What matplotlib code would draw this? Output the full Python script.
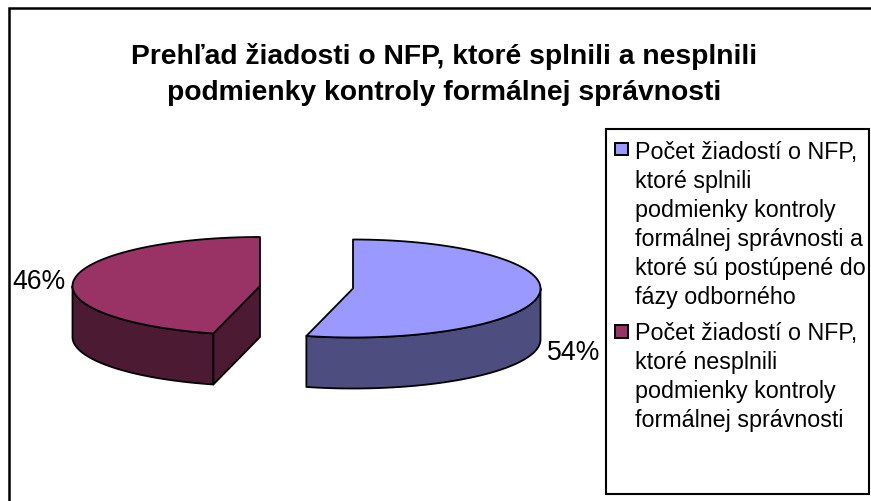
import matplotlib
matplotlib.use("Agg")
import matplotlib.pyplot as plt
import numpy as np
from matplotlib.patches import Polygon, Rectangle

plt.rcParams['font.family'] = ['Liberation Sans', 'DejaVu Sans']

title = "Prehľad žiadosti o NFP, ktoré splnili a nesplnili\npodmienky kontroly formálnej správnosti"
values = [54, 46]
labels = ["Počet žiadostí o NFP,\nktoré splnili\npodmienky kontroly\nformálnej správnosti a\nktoré sú postúpené do\nfázy odborného",
          "Počet žiadostí o NFP,\nktoré nesplnili\npodmienky kontroly\nformálnej správnosti"]
top_colors = ['#9999FF', '#993366']
side_colors = ['#4D4D80', '#4D1A33']

# vybuchnute stredy vysekov, v pixeloch obrazka
centers = [(353, 289.5), (260, 287)]
a, b = 187.5, 49
depth = 51
label_pos = [(574, 353), (39, 282)]
legend_marker_y = [149.5, 332]
legend_text_y = [141, 322]


def arc(c, t0, t1):
    t = np.linspace(t0, t1, 200)
    return np.column_stack([c[0] + a * np.sin(t), c[1] - b * np.cos(t)])


fig = plt.figure(figsize=(8.71, 5.02), dpi=100)
ax = fig.add_axes([0, 0, 1, 1])
ax.set_xlim(0, 871)
ax.set_ylim(502, 0)
ax.axis('off')

# ram grafu, vpravo a dole ide mimo obrazok
ax.add_patch(Rectangle((9, 9), 880, 520, fc='white', ec='black', lw=1.8, zorder=0))

ax.text(444, 74.5, title, fontsize=20.3, fontweight='bold', ha='center', va='center', linespacing=1.47)

edge = dict(ec='black', lw=1.3, joinstyle='round')
angles = np.cumsum([0] + values) / sum(values) * 2 * np.pi
for i, v in enumerate(values):
    c = centers[i]
    t0, t1 = angles[i], angles[i + 1]
    pts = arc(c, t0, t1)
    # bocna stena po obvode, len spodna polovica elipsy je vidno
    vis0, vis1 = max(t0, np.pi / 2), min(t1, 3 * np.pi / 2)
    wall = arc(c, vis0, vis1)
    wall_low = wall[::-1] + [0, depth]
    ax.add_patch(Polygon(np.vstack([wall, wall_low]), fc=side_colors[i], zorder=2, **edge))
    # rezna stena vidno len pri vyseku vlavo
    if t1 > 3 * np.pi / 2:
        end = pts[0]
        cut = [end, c, (c[0], c[1] + depth), (end[0], end[1] + depth)]
        ax.add_patch(Polygon(cut, fc=side_colors[i], zorder=2, **edge))
    ax.add_patch(Polygon(np.vstack([pts, c]), fc=top_colors[i], zorder=3, **edge))
    ax.text(label_pos[i][0], label_pos[i][1], f"{v}%", fontsize=19.2, ha='center', va='center', zorder=4)

# legenda
ax.add_patch(Rectangle((606, 130), 263, 365, fc='white', ec='black', lw=1.5, zorder=1))
for i, lab in enumerate(labels):
    ax.add_patch(Rectangle((615, legend_marker_y[i] - 6), 12.5, 12.5, fc=top_colors[i], ec='black', lw=1.4, zorder=2))
    ax.text(635, legend_text_y[i], lab, fontsize=16.75, ha='left', va='top', linespacing=1.33, zorder=2)

fig.savefig('out.png', dpi=100)
